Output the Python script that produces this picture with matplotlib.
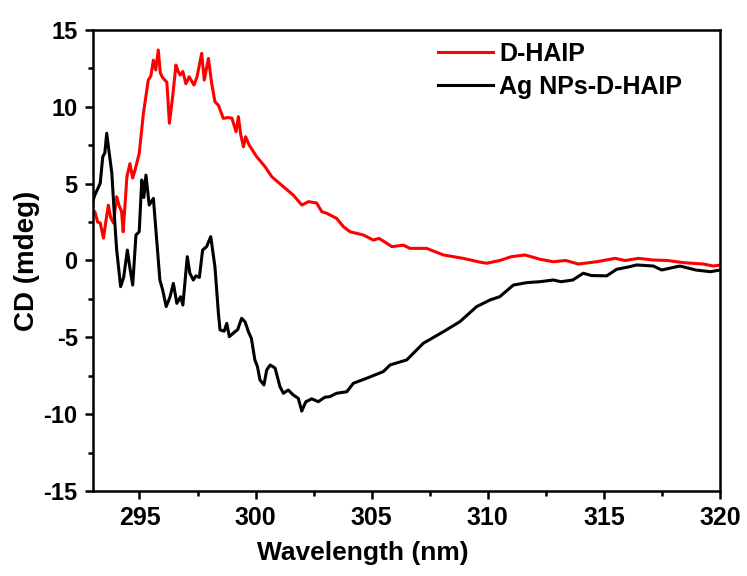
import matplotlib
matplotlib.use("Agg")
import matplotlib.pyplot as plt
from matplotlib.ticker import MultipleLocator

# values (wavelength nm, CD mdeg)
red_points = [
    (293.0, 2.9), (293.08, 3.18), (293.2, 2.5), (293.31, 2.44), (293.45, 1.46),
    (293.56, 2.6), (293.66, 3.6), (293.76, 2.8), (293.88, 2.44), (294.02, 4.15),
    (294.12, 3.6), (294.23, 3.18), (294.3, 1.87), (294.46, 5.45), (294.59, 6.3),
    (294.71, 5.37), (294.83, 6.0), (294.99, 6.97), (295.17, 9.57), (295.38, 11.74),
    (295.49, 12.0), (295.6, 13.04), (295.7, 12.4), (295.81, 13.7), (295.9, 12.2),
    (296.0, 11.9), (296.18, 11.6), (296.29, 8.93), (296.43, 10.66), (296.57, 12.72),
    (296.67, 12.3), (296.75, 12.07), (296.87, 12.3), (297.0, 11.5), (297.14, 11.96),
    (297.35, 11.42), (297.48, 11.96), (297.68, 13.48), (297.79, 11.74), (297.97, 13.15),
    (298.11, 11.53), (298.25, 10.33), (298.4, 10.1), (298.61, 9.25), (298.8, 9.3),
    (298.98, 9.27), (299.16, 8.38), (299.26, 9.36), (299.36, 8.2), (299.48, 7.4),
    (299.57, 8.05), (299.73, 7.5), (300.05, 6.75), (300.41, 6.1), (300.7, 5.45),
    (301.2, 4.8), (301.62, 4.26), (301.99, 3.61), (302.28, 3.83), (302.63, 3.74),
    (302.85, 3.18), (303.07, 3.07), (303.49, 2.74), (303.78, 2.2), (304.07, 1.87),
    (304.64, 1.66), (305.07, 1.33), (305.32, 1.44), (305.87, 0.9), (306.37, 1.0),
    (306.64, 0.79), (307.36, 0.79), (308.09, 0.36), (308.94, 0.14), (309.64, -0.1),
    (309.95, -0.18), (310.51, 0.0), (311.02, 0.25), (311.6, 0.36), (312.25, 0.08),
    (312.82, -0.08), (313.36, 0.0), (313.9, -0.23), (314.69, -0.08), (315.48, 0.14),
    (315.91, 0.0), (316.49, 0.14), (317.13, 0.03), (317.74, 0.0), (318.42, -0.14),
    (319.28, -0.23), (319.71, -0.36), (320.0, -0.3),
]

black_points = [
    (293.0, 3.9), (293.08, 4.26), (293.31, 5.02), (293.42, 6.75), (293.51, 7.0),
    (293.59, 8.28), (293.7, 6.97), (293.81, 5.7), (293.95, 2.2), (294.02, 0.68),
    (294.19, -1.7), (294.32, -1.1), (294.48, 0.68), (294.58, -0.4), (294.71, -1.6),
    (294.85, 1.66), (294.99, 1.87), (295.1, 5.24), (295.19, 4.1), (295.28, 5.56),
    (295.42, 3.61), (295.6, 4.04), (295.88, -1.27), (296.0, -1.92), (296.15, -3.0),
    (296.31, -2.4), (296.46, -1.49), (296.61, -2.79), (296.77, -2.36), (296.87, -2.9),
    (297.06, 0.25), (297.17, -0.83), (297.32, -1.27), (297.43, -1.0), (297.58, -1.1),
    (297.72, 0.68), (297.89, 0.9), (298.07, 1.55), (298.25, -0.4), (298.4, -3.44),
    (298.47, -4.52), (298.65, -4.6), (298.76, -4.09), (298.87, -4.96), (299.06, -4.7),
    (299.23, -4.5), (299.4, -3.76), (299.55, -4.0), (299.69, -4.63), (299.82, -5.07),
    (299.97, -6.47), (300.08, -6.9), (300.19, -7.77), (300.36, -8.1), (300.48, -7.12),
    (300.63, -6.8), (300.84, -7.0), (301.05, -8.21), (301.2, -8.64), (301.41, -8.43),
    (301.62, -8.75), (301.84, -8.97), (301.99, -9.8), (302.16, -9.2), (302.42, -9.0),
    (302.7, -9.19), (302.98, -8.9), (303.2, -8.86), (303.49, -8.64), (303.93, -8.54),
    (304.21, -7.99), (304.79, -7.66), (305.5, -7.23), (305.79, -6.8), (306.51, -6.47),
    (307.22, -5.39), (308.09, -4.63), (308.8, -3.98), (309.52, -3.0), (309.95, -2.68),
    (310.09, -2.57), (310.51, -2.36), (311.1, -1.6), (311.68, -1.44), (312.24, -1.38),
    (312.82, -1.27), (313.15, -1.38), (313.66, -1.27), (314.11, -0.83), (314.47, -0.98),
    (315.12, -1.0), (315.55, -0.57), (316.0, -0.44), (316.41, -0.29), (317.13, -0.36),
    (317.49, -0.62), (317.84, -0.5), (318.27, -0.36), (318.96, -0.62), (319.59, -0.73),
    (320.0, -0.62),
]

red_label = "D-HAIP"
black_label = "Ag NPs-D-HAIP"

red_x = [p[0] for p in red_points]
red_y = [p[1] for p in red_points]
black_x = [p[0] for p in black_points]
black_y = [p[1] for p in black_points]

plt.rcParams['font.family'] = ['Liberation Sans', 'DejaVu Sans']
plt.rcParams['font.weight'] = 'bold'
plt.rcParams['axes.unicode_minus'] = False

fig = plt.figure(figsize=(7.47, 5.76), dpi=100)
ax = fig.add_axes([0.1245, 0.1476, 0.8394, 0.8003])

ax.plot(red_x, red_y, color='#ff0000', lw=2.2, label=red_label)
ax.plot(black_x, black_y, color='black', lw=2.2, label=black_label)

ax.set_xlim(293, 320)
ax.set_ylim(-15, 15)
ax.xaxis.set_major_locator(MultipleLocator(5))
ax.xaxis.set_minor_locator(MultipleLocator(2.5))
ax.yaxis.set_major_locator(MultipleLocator(5))
ax.yaxis.set_minor_locator(MultipleLocator(2.5))
ax.tick_params(which='major', direction='out', length=6, width=1.8)
ax.tick_params(which='minor', direction='out', length=3.5, width=1.8)
ax.tick_params(axis='x', labelsize=18, pad=5)
ax.tick_params(axis='y', labelsize=17, pad=5)
for s in ax.spines.values():
    s.set_linewidth(1.8)
for lab in ax.get_xticklabels() + ax.get_yticklabels():
    lab.set_fontweight('bold')

ax.set_xlabel("Wavelength (nm)", fontsize=19, fontweight='bold')
ax.set_ylabel("CD (mdeg)", fontsize=20, fontweight='bold')
ax.xaxis.set_label_coords(0.43, -0.108)
ax.yaxis.set_label_coords(-0.084, 0.5)

leg = ax.legend(loc='upper left', frameon=False, fontsize=18, handlelength=2.2,
                handletextpad=0.25, labelspacing=0.36, borderpad=0, borderaxespad=0,
                bbox_to_anchor=(0.55, 0.974))
for t in leg.get_texts():
    t.set_fontweight('bold')

fig.savefig("out.png", dpi=100)
